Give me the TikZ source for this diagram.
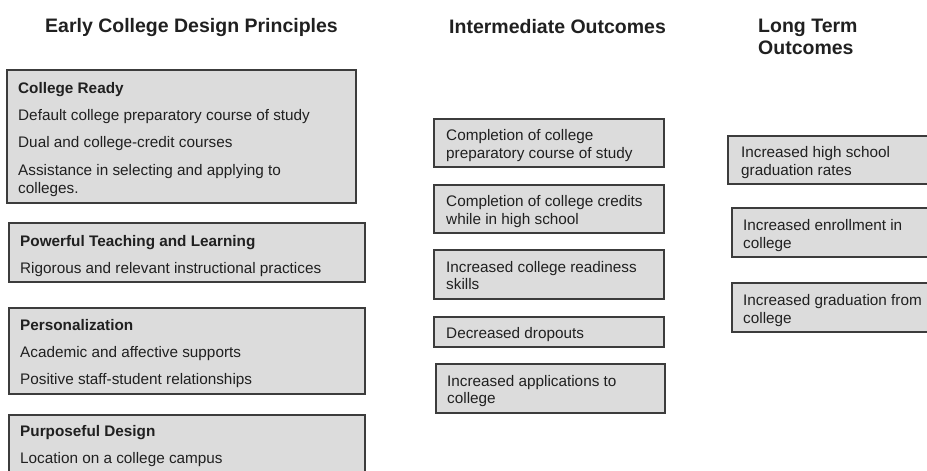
\documentclass[tikz,border=0pt]{standalone}
\usepackage{fontspec}
\setmainfont{Liberation Sans}
\usetikzlibrary{fit}
\definecolor{boxfill}{HTML}{DCDCDC}
\definecolor{boxline}{HTML}{3C3C3C}
\definecolor{txt}{HTML}{202020}
\tikzset{
  box/.style={draw=boxline, fill=boxfill, line width=1.8pt, inner sep=0pt, rectangle},
  body/.style={anchor=base west, inner sep=0pt, text=txt, font=\fontsize{15.3}{18}\selectfont},
  bodyb/.style={body, font=\fontsize{15.3}{18}\selectfont\bfseries},
  head/.style={anchor=base west, inner sep=0pt, text=txt, font=\fontsize{19.5}{22}\selectfont\bfseries},
}
\begin{document}
\begin{tikzpicture}[x=1pt,y=-1pt]
\useasboundingbox (0,0) rectangle (927,471);
\clip (0,0) rectangle (927,471);
% headers
\node[head] (h1) at (45,32) {Early College Design Principles};
\node[head] (h2) at (449,33) {Intermediate Outcomes};
\node[head] (h3) at (758,32) {Long Term};
\node[head] (h3b) at (758,54) {Outcomes};
% left boxes
\node[box, fit={(7,70) (356,203)}] (b1) {};
\node[bodyb] (b1t) at (18,93) {College Ready};
\node[body] (b1a) at (18,120) {Default college preparatory course of study};
\node[body] (b1b) at (18,147) {Dual and college-credit courses};
\node[body] (b1c) at (18,175) {Assistance in selecting and applying to};
\node[body] (b1d) at (18,193) {colleges.};
\node[box, fit={(9,223) (365,282)}] (b2) {};
\node[bodyb] (b2t) at (20,246) {Powerful Teaching and Learning};
\node[body] (b2a) at (20,273) {Rigorous and relevant instructional practices};
\node[box, fit={(9,308) (365,394)}] (b3) {};
\node[bodyb] (b3t) at (20,330) {Personalization};
\node[body] (b3a) at (20,357) {Academic and affective supports};
\node[body] (b3b) at (20,384) {Positive staff-student relationships};
\node[box, fit={(9,415) (365,490)}] (b4) {};
\node[bodyb] (b4t) at (20,436) {Purposeful Design};
\node[body] (b4a) at (20,463) {Location on a college campus};
% middle boxes
\node[box, fit={(434,119) (664,167)}] (m1) {};
\node[body] (m1a) at (446,140) {Completion of college};
\node[body] (m1b) at (446,158) {preparatory course of study};
\node[box, fit={(434,185) (664,233)}] (m2) {};
\node[body] (m2a) at (446,206) {Completion of college credits};
\node[body] (m2b) at (446,224) {while in high school};
\node[box, fit={(434,250) (664,299)}] (m3) {};
\node[body] (m3a) at (446,272) {Increased college readiness};
\node[body] (m3b) at (446,289) {skills};
\node[box, fit={(434,317) (664,347)}] (m4) {};
\node[body] (m4a) at (446,338) {Decreased dropouts};
\node[box, fit={(436,364) (665,413)}] (m5) {};
\node[body] (m5a) at (447,386) {Increased applications to};
\node[body] (m5b) at (447,403) {college};
% right boxes
\node[box, fit={(728,136) (945,184)}] (r1) {};
\node[body] (r1a) at (741,157) {Increased high school};
\node[body] (r1b) at (741,175) {graduation rates};
\node[box, fit={(732,208) (945,257)}] (r2) {};
\node[body] (r2a) at (743,230) {Increased enrollment in};
\node[body] (r2b) at (743,248) {college};
\node[box, fit={(732,283) (945,332)}] (r3) {};
\node[body] (r3a) at (743,305) {Increased graduation from};
\node[body] (r3b) at (743,323) {college};
\end{tikzpicture}
\end{document}
